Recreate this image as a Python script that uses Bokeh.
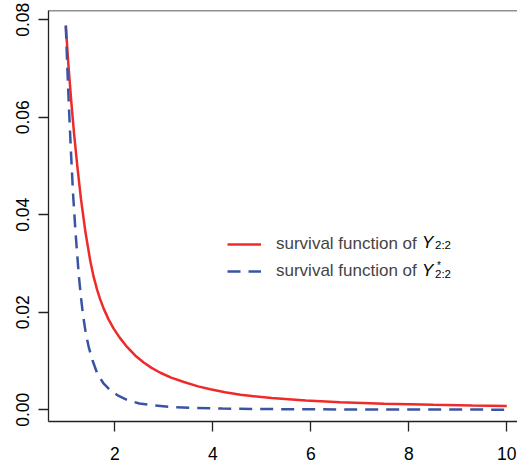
from bokeh.plotting import figure
from bokeh.models import (FixedTicker, NumeralTickFormatter, Legend, LegendItem,
                          Label, Span, Range1d)
from bokeh.embed import file_html
from bokeh.resources import INLINE

# ---- data ----
red_x = [1.0, 1.05, 1.11, 1.17, 1.24, 1.31, 1.40, 1.50, 1.57, 1.64, 1.70,
         1.775, 1.87, 1.98, 2.1, 2.25, 2.42, 2.59, 2.75, 2.93, 3.15, 3.41,
         3.7, 3.95, 4.25, 4.565, 5.2, 5.9, 6.6, 7.5, 8.5, 9.3, 10.0]
red_y = [0.0788, 0.0712, 0.0634, 0.0565, 0.0495, 0.0432, 0.0365, 0.0305,
         0.0272, 0.0246, 0.0227, 0.0207, 0.0186, 0.0166, 0.0148, 0.0129,
         0.0111, 0.0097, 0.0086, 0.0076, 0.0066, 0.0057, 0.0048, 0.0042,
         0.0036, 0.0031, 0.0024, 0.0019, 0.00155, 0.00125, 0.00102, 0.00088,
         0.00078]

blue_x = [1.0, 1.03, 1.06, 1.1, 1.15, 1.20, 1.265, 1.31, 1.355, 1.41, 1.47,
          1.55, 1.64, 1.77, 1.91, 2.07, 2.25, 2.5, 2.8, 3.2, 3.61, 4.2, 5.0,
          6.0, 7.5, 10.0]
blue_y = [0.0788, 0.0705, 0.0630, 0.0540, 0.0440, 0.0362, 0.0276, 0.0230,
          0.0192, 0.0156, 0.0128, 0.0100, 0.0075, 0.0054, 0.0040, 0.0029,
          0.0020, 0.0013, 0.00088, 0.00055, 0.0004, 0.00025, 0.00015, 0.0001,
          0.00006, 0.00003]

x_ticks = [2, 4, 6, 8, 10]
y_ticks = [0.00, 0.02, 0.04, 0.06, 0.08]
legend_text = "survival function of"

FONT = "Liberation Sans"
RED = "#EE2A2A"
BLUE = "#3A54A4"
FS_TICK = "17.5px"
FS = "17px"

X0, X1 = 0.647, 0.647 + 469 / 49.0
Y0, Y1 = -0.0024, 0.0819

p = figure(width=517, height=467, output_backend="svg", toolbar_location=None,
           x_range=Range1d(X0, X1), y_range=Range1d(Y0, Y1),
           min_border_left=48, min_border_right=0, min_border_top=10,
           min_border_bottom=46)
p.outline_line_color = None
p.grid.visible = False
p.background_fill_color = "white"
p.border_fill_color = "white"

r_red = p.line(red_x, red_y, line_color=RED, line_width=2.5)
r_blue = p.line(blue_x, blue_y, line_color=BLUE, line_width=2.5,
                line_dash="13 8")

for ax in (p.xaxis[0], p.yaxis[0]):
    ax.axis_line_color = "#222222"
    ax.axis_line_width = 1.3
    ax.major_tick_line_color = "#222222"
    ax.major_tick_line_width = 1.3
    ax.major_tick_out = 10
    ax.major_tick_in = 0
    ax.minor_tick_line_color = None
    ax.major_label_text_font = FONT
    ax.major_label_text_font_size = FS_TICK
    ax.major_label_text_color = "black"

p.xaxis.ticker = FixedTicker(ticks=x_ticks)
p.xaxis.major_label_standoff = 15
p.yaxis.ticker = FixedTicker(ticks=y_ticks)
p.yaxis.formatter = NumeralTickFormatter(format="0.00")
p.yaxis.major_label_orientation = "vertical"
p.yaxis.major_label_standoff = 9

# top border of the box
p.add_layout(Span(location=Y1, dimension="width", line_color="#222222",
                  line_width=1.3))

legend = Legend(items=[LegendItem(label=legend_text, renderers=[r_red]),
                       LegendItem(label=legend_text, renderers=[r_blue])],
                location=(179, 140), border_line_color=None,
                background_fill_alpha=0, padding=0, margin=0, spacing=7,
                glyph_width=34, glyph_height=20, label_height=20,
                label_standoff=15, label_text_font=FONT,
                label_text_font_size=FS)
p.add_layout(legend)


def dx(px):
    return X0 + (px - 48) / 49.0


def dy(py):
    return Y0 + (421 - py) * (Y1 - Y0) / 411.0


def lab(text, px, py, size, style="normal"):
    p.add_layout(Label(x=dx(px), y=dy(py), text=text, text_font=FONT,
                       text_font_size=size, text_font_style=style,
                       text_align="left", text_baseline="alphabetic",
                       text_color="black"))


lab("Y", 421.5, 242.0, FS, "italic")
lab("2:2", 434.5, 244.0, "11.5px")
lab("Y", 421.5, 269.5, FS, "italic")
lab("2:2", 434.5, 273.8, "11.5px")
lab("*", 436.5, 265.0, "10px")

open("out.html", "w").write(file_html(p, INLINE))
